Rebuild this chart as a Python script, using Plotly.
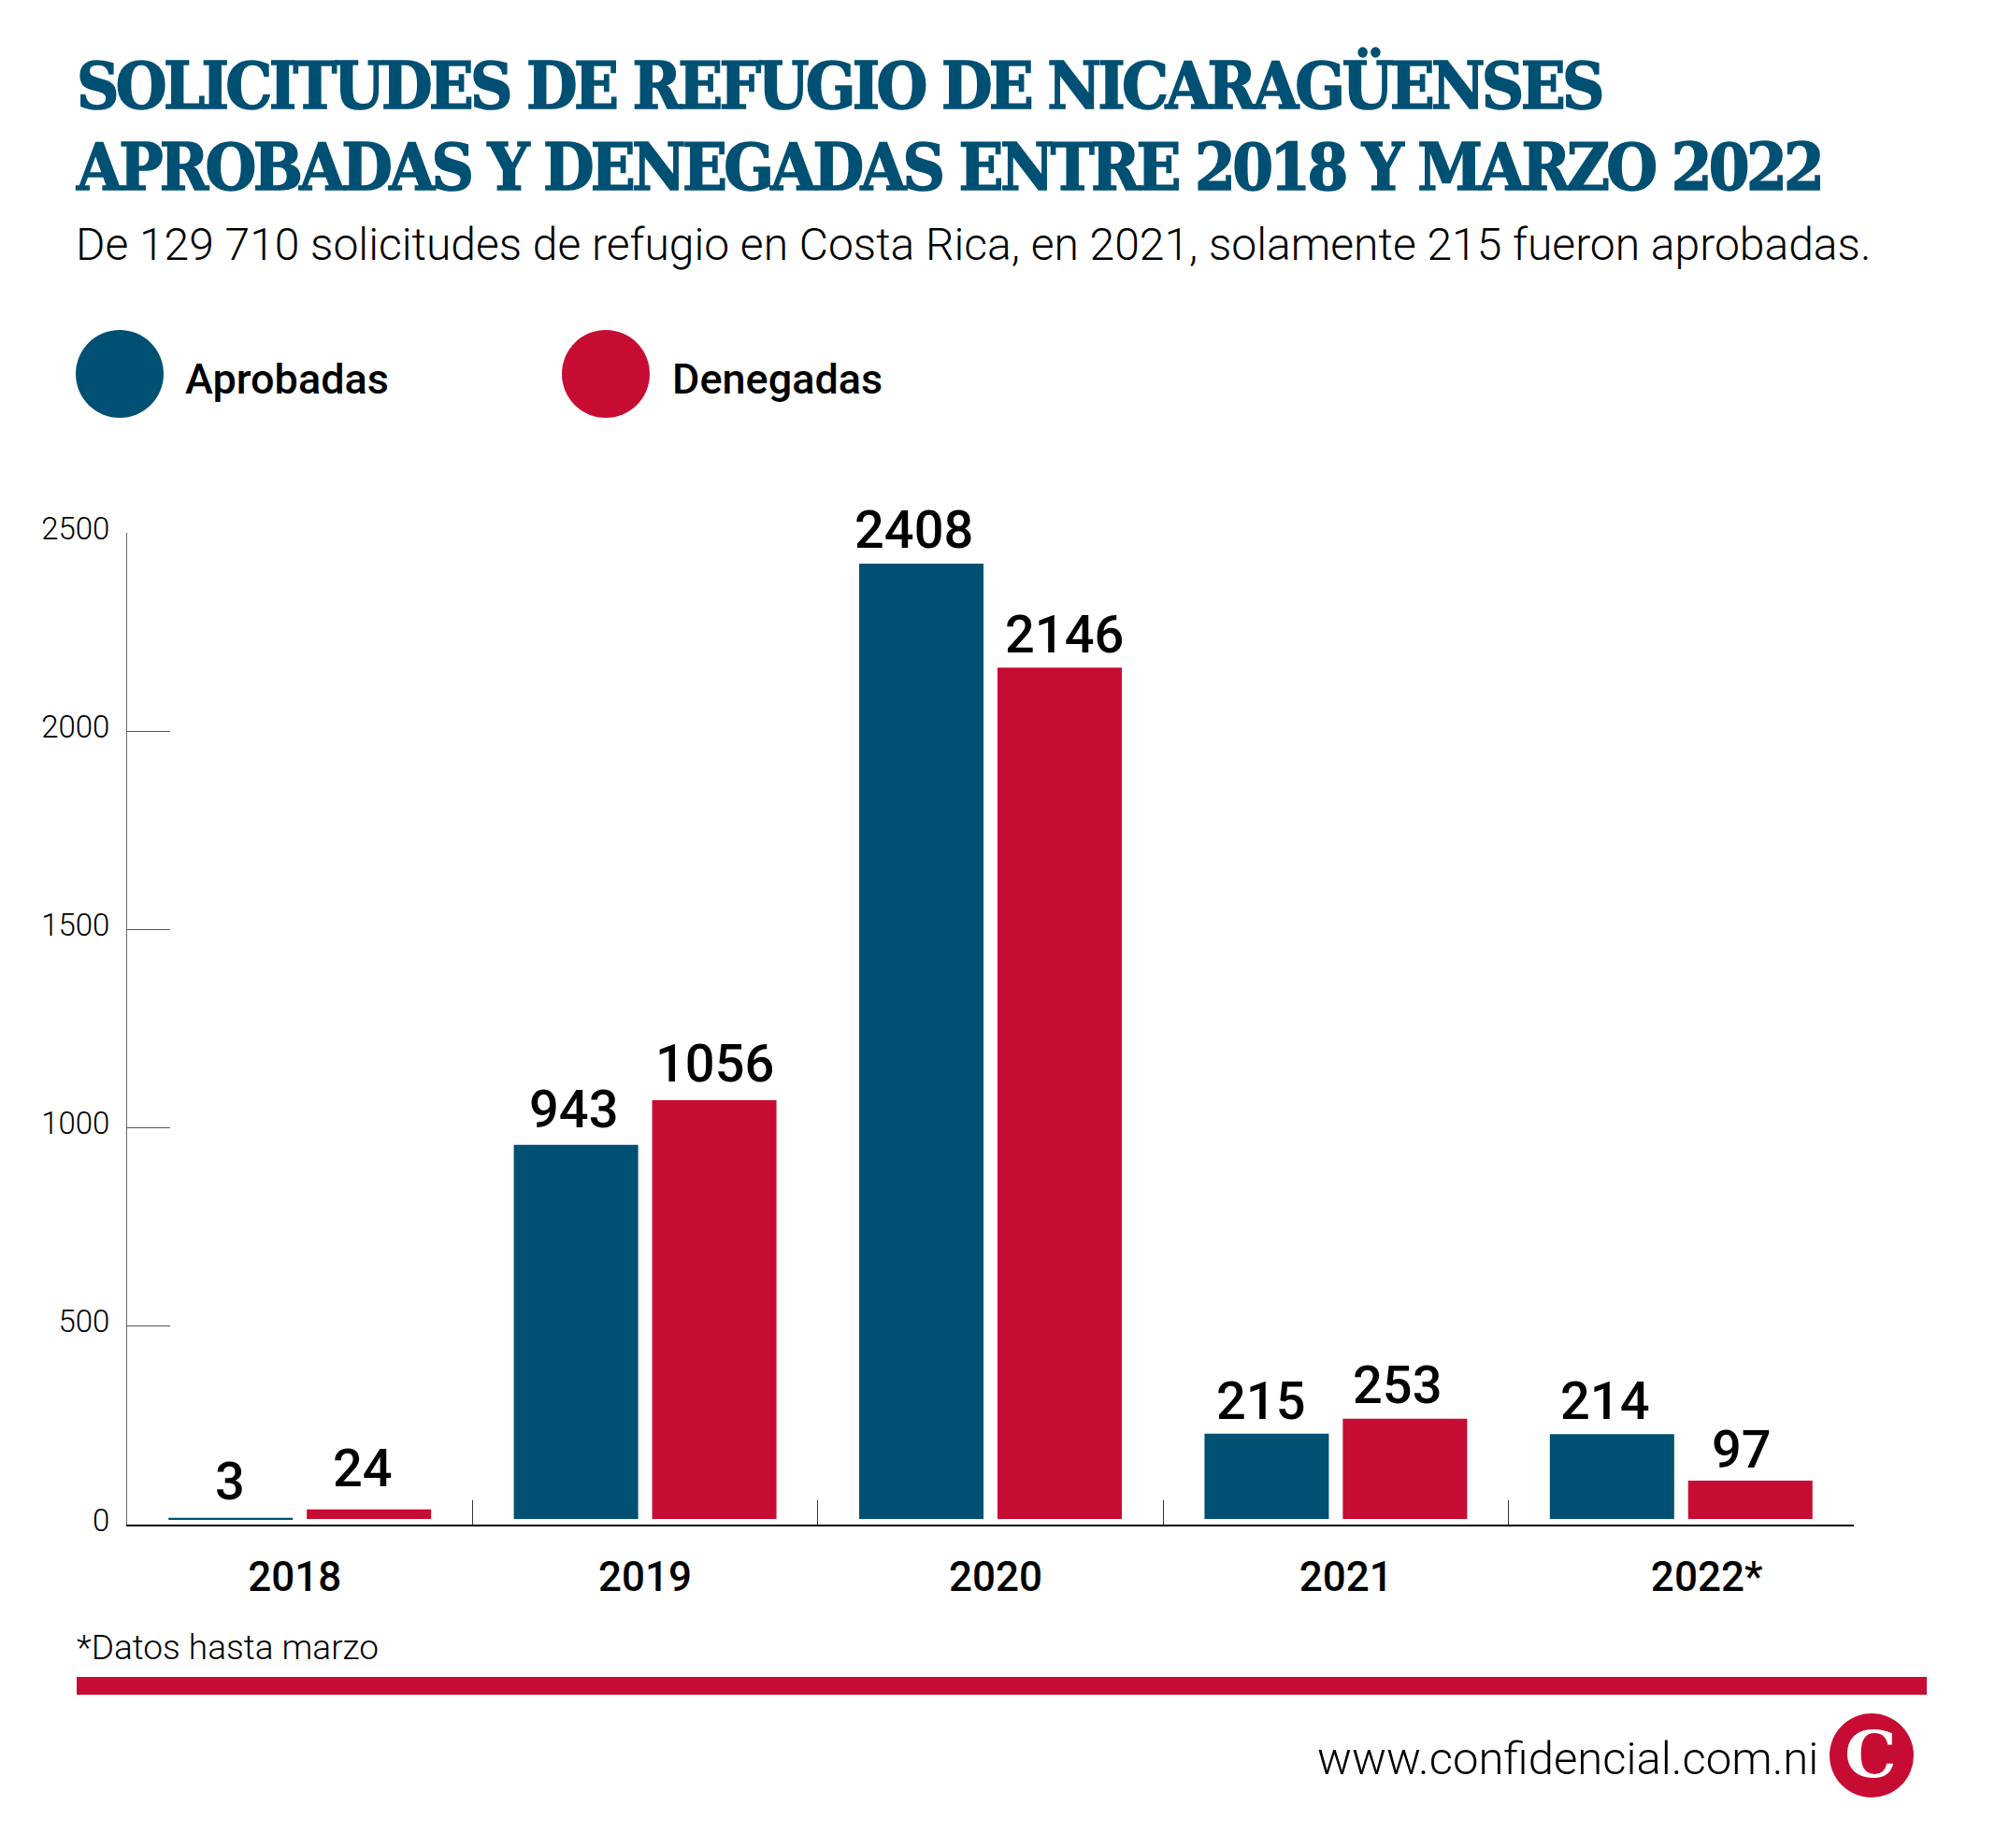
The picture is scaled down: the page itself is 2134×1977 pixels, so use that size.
import plotly.graph_objects as go

# ---------- data ----------
years = ["2018", "2019", "2020", "2021", "2022*"]
aprobadas = [3, 943, 2408, 215, 214]
denegadas = [24, 1056, 2146, 253, 97]
y_ticks = [0, 500, 1000, 1500, 2000, 2500]
series_names = ["Aprobadas", "Denegadas"]

# ---------- style ----------
BLUE = "#005073"
RED = "#c70c33"
W, H = 2134, 1977
L, R, T, B = 136, 1983, 570, 1631   # plot area in page pixels
BAR_LIFT = 14                       # bars float a little above the axis line
SANS = "Roboto"
SLAB = "DejaVu Serif Condensed"
# hand placement of the value labels relative to their bars, in pixels
BLUE_NUDGE_X = [-1, -3, -8, -6, -8]
RED_NUDGE_X = [-7, 0, 5, -8, -9]
BLUE_NUDGE_Y = [3, 2, 0, -1, -1]
RED_NUDGE_Y = [8, 3, -1, 0, -3]
# the year labels sit slightly off-centre in the reference: pad with no-break spaces
NB = "\u00a0"
tick_text = [years[0] + NB, years[1], NB + years[2], NB * 2 + years[3], NB * 5 + years[4]]


def px(x):
    return (x - L) / (R - L)


def py(y):
    return (B - y) / (B - T)


def text(x, y, s, size, weight=400, color="#000", anchor="left", family=SANS):
    return dict(xref="paper", yref="paper", x=px(x), y=py(y), text=s, showarrow=False,
                xanchor=anchor, yanchor="middle", align=anchor,
                font=dict(family=family, size=size, weight=weight, color=color))


def disc(cx, cy, r, color):
    return dict(type="circle", xref="paper", yref="paper", x0=px(cx - r), x1=px(cx + r),
                y0=py(cy + r), y1=py(cy - r), fillcolor=color, line_width=0, layer="above")


fig = go.Figure()
for name, vals, col in zip(series_names, [aprobadas, denegadas], [BLUE, RED]):
    fig.add_bar(x=years, y=vals, base=BAR_LIFT, name=name, marker=dict(color=col, line_width=0))

annotations = []
for vals, nx, ny, off in [(aprobadas, BLUE_NUDGE_X, BLUE_NUDGE_Y, -74), (denegadas, RED_NUDGE_X, RED_NUDGE_Y, 74)]:
    for i, (v, dx, dy) in enumerate(zip(vals, nx, ny)):
        annotations.append(dict(x=i, y=v + BAR_LIFT, xref="x", yref="y", text=str(v), showarrow=False,
                                xanchor="center", yanchor="bottom", xshift=off + dx, yshift=1 + dy,
                                font=dict(family=SANS, size=56, weight=500, color="#000")))

annotations += [
    text(79, 261, "De 129 710 solicitudes de refugio en Costa Rica, en 2021, solamente 215 fueron aprobadas.", 48, 300),
    text(196, 405, series_names[0], 45, 500),
    text(717, 405, series_names[1], 45, 500),
    text(80, 1762, "*Datos hasta marzo", 37, 300),
    text(1947, 1881, "www.confidencial.com.ni", 49, 300, anchor="right"),
    text(2001, 1876, "C", 70, 700, "#fff", "center", "DejaVu Serif"),
]

shapes = [
    disc(128, 400, 47, BLUE),
    disc(648, 400, 47, RED),
    dict(type="rect", xref="paper", yref="paper", x0=px(82), x1=px(2061), y0=py(1813), y1=py(1794),
         fillcolor=RED, line_width=0),
    disc(2002, 1878, 45, RED),
]

title_span = '<span style="font-size:70px;letter-spacing:-3.7px;stroke:#005073;stroke-width:1.5px">%s</span>'
fig.update_layout(
    width=W, height=H, margin=dict(l=L, r=W - R, t=T, b=H - B),
    paper_bgcolor="#fff", plot_bgcolor="#fff", showlegend=False,
    barmode="group", bargap=0.199, bargroupgap=0.101,
    title=dict(text=title_span % "SOLICITUDES DE REFUGIO DE NICARAGÜENSES" + "<br>" + title_span % "APROBADAS Y DENEGADAS ENTRE 2018 Y MARZO 2022",
               xref="container", yref="container", x=82 / W, xanchor="left", y=1 - 116 / H, yanchor="middle",
               font=dict(family=SLAB, size=67, weight=700, color=BLUE)),
    xaxis=dict(type="category", tickmode="array", tickvals=years, ticktext=tick_text,
               tickson="boundaries", ticks="inside", ticklen=26, tickwidth=1, tickcolor="#333",
               showline=True, linecolor="#000", linewidth=2, showgrid=False, zeroline=False, tickangle=0,
               ticklabelstandoff=16,
               tickfont=dict(family=SANS, size=44, weight=500, color="#000")),
    yaxis=dict(range=[0, 2500], tickvals=y_ticks, ticks="inside", ticklen=46, tickwidth=1, tickcolor="#555",
               showline=True, linecolor="#666", linewidth=1, showgrid=False, zeroline=False,
               ticklabelstandoff=11, ticklabelshift=-5,
               tickfont=dict(family=SANS, size=33, weight=300, color="#000")),
    annotations=annotations, shapes=shapes,
)

fig.write_html("out.html", post_script="document.body.style.margin='0';", config={"displayModeBar": False})
